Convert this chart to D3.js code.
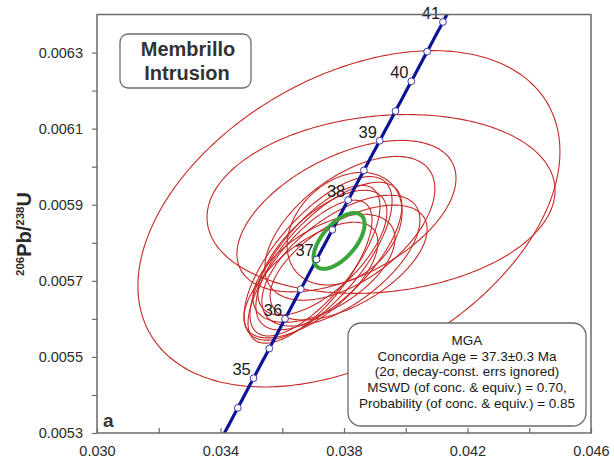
<!DOCTYPE html>
<html>
<head>
<meta charset="utf-8">
<script src="https://cdn.jsdelivr.net/npm/d3@7"></script>
<style>
  body { margin: 0; background: #fff; }
  text { font-family: "Liberation Sans", Arial, sans-serif; }
</style>
</head>
<body>
<svg id="chart" width="614" height="461"></svg>
<script>
// Axis ticks (207Pb/235U on x, 206Pb/238U on y)
const xTicks = [0.030, 0.034, 0.038, 0.042, 0.046];
const xMinorTicks = [0.032, 0.036, 0.040, 0.044];
const yTicks = [0.0053, 0.0055, 0.0057, 0.0059, 0.0061, 0.0063];
const yMinorTicks = [0.0054, 0.0056, 0.0058, 0.0060, 0.0062];

// Concordia tick ages (Ma) and the ages that carry a label
const concordiaAges = [34.5, 35, 35.5, 36, 36.5, 37, 37.5, 38, 38.5, 39, 39.5, 40, 40.5, 41];
const labelledAges = [35, 36, 37, 38, 39, 40, 41];

// Single-grain analyses: centre, 2-sigma errors and error correlation
const ellX   = [0.03816, 0.03920, 0.03808, 0.03819, 0.03802, 0.03716, 0.03706, 0.03751, 0.03790, 0.03690, 0.03815, 0.03730, 0.03735, 0.03693];
const ellY   = [0.005863, 0.005902, 0.005870, 0.005838, 0.005837, 0.005759, 0.005753, 0.005765, 0.005753, 0.005724, 0.005748, 0.005774, 0.005733, 0.005702];
const ellSx  = [0.006834, 0.005636, 0.003547, 0.002753, 0.001862, 0.002397, 0.002105, 0.002364, 0.002559, 0.002008, 0.002543, 0.002089, 0.002300, 0.002170];
const ellSy  = [0.000442, 0.000235, 0.000199, 0.000189, 0.000148, 0.000215, 0.000198, 0.000194, 0.000172, 0.000188, 0.000151, 0.000164, 0.000142, 0.000152];
const ellRho = [0.40, 0.15, 0.50, 0.55, 0.30, 0.70, 0.72, 0.68, 0.62, 0.72, 0.58, 0.65, 0.55, 0.65];

// Concordia age ellipse
const ageEllipse = { x: 0.03784, y: 0.005805, sx: 0.000826, sy: 0.0000735, rho: 0.6 };

// U decay constants (1/yr)
const L238 = 1.55125e-10, L235 = 9.8485e-10;

const svg = d3.select("#chart");
const margin = { left: 97, right: 23, top: 14.5, bottom: 28 };
const W = 614, H = 461;

const x = d3.scaleLinear().domain([0.030, 0.046]).range([margin.left, W - margin.right]);
const y = d3.scaleLinear().domain([0.0053, 0.0064]).range([H - margin.bottom, margin.top]);

const frameColor = "#6b6b6b";
const textColor = "#2b2b2b";

svg.append("clipPath").attr("id", "plotClip")
  .append("rect")
  .attr("x", x.range()[0]).attr("y", y.range()[1])
  .attr("width", x.range()[1] - x.range()[0])
  .attr("height", y.range()[0] - y.range()[1]);

const plot = svg.append("g").attr("clip-path", "url(#plotClip)");

// Error ellipses
function ellipsePoints(cx, cy, sx, sy, rho) {
  const k = Math.sqrt(1 - rho * rho);
  return d3.range(0, 360, 2).map(d => {
    const t = d * Math.PI / 180;
    return [x(cx + sx * Math.cos(t)), y(cy + sy * (rho * Math.cos(t) + k * Math.sin(t)))];
  });
}
const closedLine = d3.line().curve(d3.curveCardinalClosed.tension(0.5));

plot.selectAll("path.ell")
  .data(d3.range(ellX.length))
  .join("path")
  .attr("class", "ell")
  .attr("d", i => closedLine(ellipsePoints(ellX[i], ellY[i], ellSx[i], ellSy[i], ellRho[i])))
  .attr("fill", "none")
  .attr("stroke", "#c62a28")
  .attr("stroke-width", 1.1);

// Concordia curve
const ratio238 = t => Math.exp(L238 * t * 1e6) - 1;
const ratio235 = t => Math.exp(L235 * t * 1e6) - 1;
const curveAges = d3.range(33.8, 41.4, 0.05);
plot.append("path")
  .attr("d", d3.line()(curveAges.map(t => [x(ratio235(t)), y(ratio238(t))])))
  .attr("fill", "none")
  .attr("stroke", "#0c1496")
  .attr("stroke-width", 3.2);

// Concordia age ellipse
plot.append("path")
  .attr("d", closedLine(ellipsePoints(ageEllipse.x, ageEllipse.y, ageEllipse.sx, ageEllipse.sy, ageEllipse.rho)))
  .attr("fill", "none")
  .attr("stroke", "#3aa53a")
  .attr("stroke-width", 4);

// Age ticks on the concordia
plot.selectAll("circle.age")
  .data(concordiaAges)
  .join("circle")
  .attr("class", "age")
  .attr("cx", t => x(ratio235(t)))
  .attr("cy", t => y(ratio238(t)))
  .attr("r", 3.4)
  .attr("fill", "#fff")
  .attr("stroke", "#3a3aa8")
  .attr("stroke-width", 1);

svg.selectAll("text.age")
  .data(labelledAges)
  .join("text")
  .attr("class", "age")
  .attr("x", t => x(ratio235(t)) - 12)
  .attr("y", t => y(ratio238(t)) - 3)
  .attr("text-anchor", "middle")
  .attr("font-size", 16.5)
  .attr("fill", "#1a1a1a")
  .text(t => t);

// Frame
svg.append("rect")
  .attr("x", x.range()[0]).attr("y", y.range()[1])
  .attr("width", x.range()[1] - x.range()[0])
  .attr("height", y.range()[0] - y.range()[1])
  .attr("fill", "none")
  .attr("stroke", frameColor)
  .attr("stroke-width", 1.5);

// Axes
const xAxis = svg.append("g")
  .attr("transform", `translate(0,${y.range()[0]})`)
  .call(d3.axisBottom(x).tickValues(xTicks.concat(xMinorTicks)).tickSize(-5).tickPadding(13)
    .tickFormat(d => xTicks.includes(d) ? d3.format(".3f")(d) : ""));
const yAxis = svg.append("g")
  .attr("transform", `translate(${x.range()[0]},0)`)
  .call(d3.axisLeft(y).tickValues(yTicks.concat(yMinorTicks)).tickSize(5).tickPadding(9)
    .tickFormat(d => yTicks.some(v => Math.abs(v - d) < 1e-9) ? d3.format(".4f")(d) : ""));
[xAxis, yAxis].forEach(g => {
  g.select(".domain").remove();
  g.selectAll(".tick line").attr("stroke", frameColor).attr("stroke-width", 1.2);
  g.selectAll(".tick text").attr("font-size", 14.5).attr("fill", textColor)
    .attr("font-family", "Liberation Sans, Arial, sans-serif");
});

// Y axis title
const yTitle = svg.append("text")
  .attr("transform", "translate(31,234) rotate(-90)")
  .attr("text-anchor", "middle")
  .attr("font-weight", "bold")
  .attr("fill", textColor);
yTitle.append("tspan").attr("font-size", 11.5).attr("dy", -7).text("206");
yTitle.append("tspan").attr("font-size", 20).attr("dy", 7).text("Pb/");
yTitle.append("tspan").attr("font-size", 11.5).attr("dy", -7).text("238");
yTitle.append("tspan").attr("font-size", 20).attr("dy", 7).text("U");

// Sample name box
svg.append("rect")
  .attr("x", 120).attr("y", 34).attr("width", 131).attr("height", 54)
  .attr("rx", 8).attr("fill", "#fff").attr("stroke", frameColor).attr("stroke-width", 1.3);
svg.append("text").attr("x", 188).attr("y", 56).attr("text-anchor", "middle")
  .attr("font-size", 20).attr("font-weight", "bold").attr("fill", "#333").text("Membrillo");
svg.append("text").attr("x", 187).attr("y", 80).attr("text-anchor", "middle")
  .attr("font-size", 20).attr("font-weight", "bold").attr("fill", "#333").text("Intrusion");

// Result box
const resultLines = [
  "MGA",
  "Concordia Age = 37.3\u00B10.3 Ma",
  "(2\u03C3, decay-const. errs ignored)",
  "MSWD (of conc. & equiv.) = 0.70,",
  "Probability (of conc. & equiv.) = 0.85"
];
svg.append("rect")
  .attr("x", 348).attr("y", 323).attr("width", 238).attr("height", 103)
  .attr("rx", 13).attr("fill", "#fff").attr("stroke", frameColor).attr("stroke-width", 1.3);
svg.selectAll("text.res")
  .data(resultLines)
  .join("text")
  .attr("class", "res")
  .attr("x", 467)
  .attr("y", (d, i) => 345 + i * 15.7)
  .attr("text-anchor", "middle")
  .attr("font-size", 13.5)
  .attr("fill", "#1a1a1a")
  .text(d => d);

// Panel letter
svg.append("text").attr("x", 103).attr("y", 427)
  .attr("font-size", 19).attr("font-weight", "bold").attr("fill", "#333").text("a");
</script>
</body>
</html>
